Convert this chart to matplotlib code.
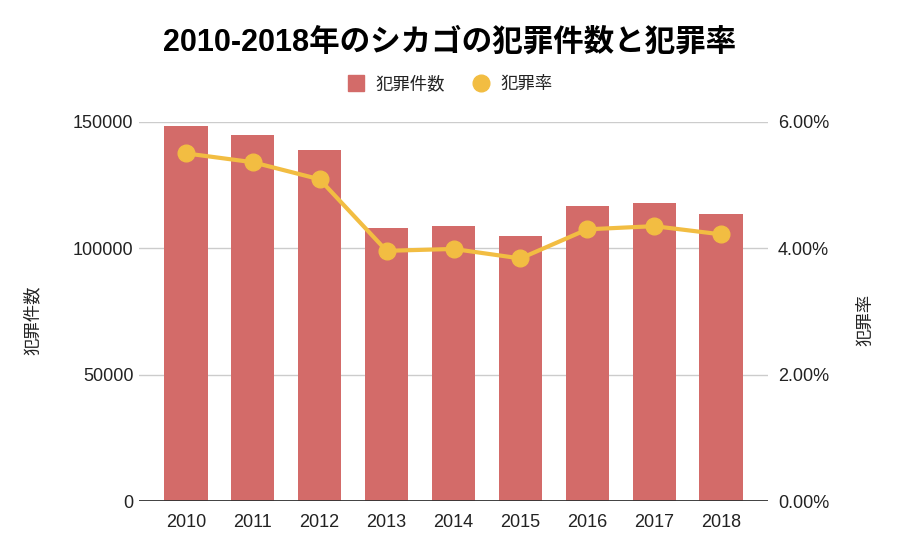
import matplotlib
matplotlib.use("Agg")
import matplotlib.pyplot as plt
from matplotlib.lines import Line2D
from matplotlib.ticker import FuncFormatter

plt.rcParams["font.family"] = ["Liberation Sans", "Noto Sans CJK JP", "DejaVu Sans"]

years = ["2010", "2011", "2012", "2013", "2014", "2015", "2016", "2017", "2018"]
crimes = [148400, 144700, 138800, 107900, 108900, 104900, 116700, 117800, 113500]
rate = [5.50, 5.36, 5.09, 3.96, 3.99, 3.84, 4.30, 4.35, 4.22]

BAR = "#d36b69"
LINE = "#f2bd42"

fig = plt.figure(figsize=(9, 5.52), dpi=100)
ax = fig.add_axes([0.1544, 0.0915, 0.699, 0.688])
ax2 = ax.twinx()

x = range(len(years))
ax.bar(x, crimes, width=0.65, color=BAR, zorder=2)
ax2.plot(x, rate, color=LINE, lw=3, marker="o", ms=12, zorder=3)

ax.set_xlim(-0.7, 8.7)
ax.set_ylim(0, 150000)
ax.set_yticks([0, 50000, 100000, 150000])
ax.yaxis.set_major_formatter(FuncFormatter(lambda v, p: f"{int(v)}"))
ax2.set_ylim(0, 6)
ax2.set_yticks([0, 2, 4, 6])
ax2.yaxis.set_major_formatter(FuncFormatter(lambda v, p: f"{v:.2f}%"))
ax.set_xticks(list(x))
ax.set_xticklabels(years)

for a in (ax, ax2):
    for s in ("top", "left", "right", "bottom"):
        a.spines[s].set_visible(False)
ax.axhline(0, color="#333333", lw=1.3, zorder=4)
ax.grid(axis="y", color="#cccccc", lw=1, zorder=0)
ax.set_axisbelow(True)
ax.tick_params(axis="y", length=0, pad=4, labelsize=13, labelcolor="#222222")
ax.tick_params(axis="x", length=0, pad=9, labelsize=13, labelcolor="#222222")
ax2.tick_params(axis="y", length=0, pad=7, labelsize=13, labelcolor="#222222")

fig.text(0.5, 0.922, "2010-2018年のシカゴの犯罪件数と犯罪率", ha="center", va="center",
         fontsize=22, fontweight="bold", family=["Liberation Sans", "Noto Sans CJK JP"])
fig.text(0.036, 0.42, "犯罪件数", rotation=90, ha="center", va="center", fontsize=12.5,
         color="#222222", family=["Noto Sans CJK JP"])
fig.text(0.962, 0.42, "犯罪率", rotation=90, ha="center", va="center", fontsize=12.5,
         color="#222222", family=["Noto Sans CJK JP"])

handles = [Line2D([], [], ls="none", marker="s", ms=12, color=BAR, label="犯罪件数"),
           Line2D([], [], ls="none", marker="o", ms=12, color=LINE, label="犯罪率")]
leg = fig.legend(handles=handles, loc="center", bbox_to_anchor=(0.5, 0.848), ncol=2,
                 frameon=False, handlelength=1.0, handletextpad=0.6, columnspacing=1.6,
                 prop={"family": ["Noto Sans CJK JP"], "size": 12.5})
for t in leg.get_texts():
    t.set_color("#222222")

fig.savefig("out.png", dpi=100)
